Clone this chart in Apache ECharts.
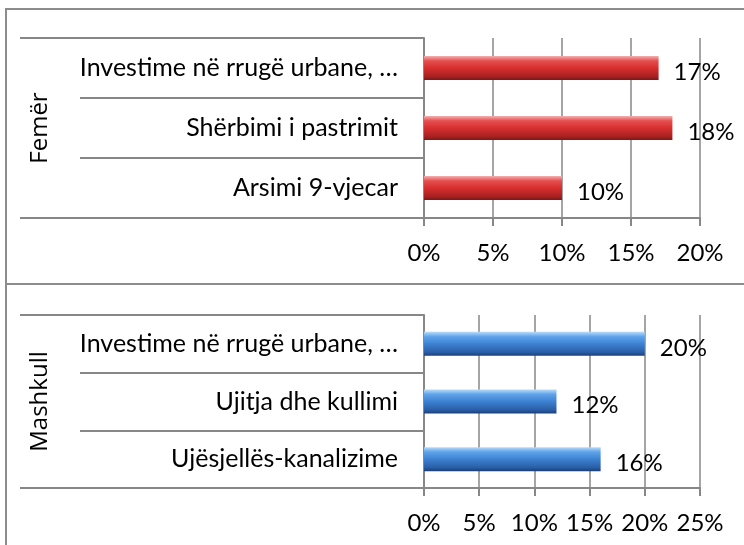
<!DOCTYPE html>
<html>
<head>
<meta charset="utf-8">
<script src="https://cdn.jsdelivr.net/npm/echarts@6/dist/echarts.min.js"></script>
<style>
  html, body { margin: 0; padding: 0; background: #fff; }
  #chart { width: 744px; height: 545px; }
</style>
</head>
<body>
<div id="chart"></div>
<script>
// data (top to bottom as in the picture)
var femerCats = ['Investime në rrugë urbane, …', 'Shërbimi i pastrimit', 'Arsimi 9-vjecar'];
var femerVals = [17, 18, 10];
var mashkullCats = ['Investime në rrugë urbane, …', 'Ujitja dhe kullimi', 'Ujësjellës-kanalizime'];
var mashkullVals = [20, 12, 16];
var femerMax = 20;
var mashkullMax = 25;
var tickStep = 5;

var gray = '#878787';
var catFont = 'Lato, "Liberation Sans", sans-serif';

var chart = echarts.init(document.getElementById('chart'));

// 3d-ish bar fill
var redFill = new echarts.graphic.LinearGradient(0, 0, 0, 1, [
    { offset: 0, color: '#f4b0b0' },
    { offset: 0.2, color: '#e65050' },
    { offset: 0.5, color: '#d82e2e' },
    { offset: 0.85, color: '#a82222' },
    { offset: 1, color: '#7c1818' }
]);
var blueFill = new echarts.graphic.LinearGradient(0, 0, 0, 1, [
    { offset: 0, color: '#b8dcfa' },
    { offset: 0.2, color: '#5fa3ea' },
    { offset: 0.5, color: '#3d82d2' },
    { offset: 0.85, color: '#2a5ea6' },
    { offset: 1, color: '#1c3f78' }
]);

function valueAxis(idx, max) {
    return {
        type: 'value',
        gridIndex: idx,
        min: 0,
        max: max,
        interval: tickStep,
        axisLine: { show: true, lineStyle: { color: gray, width: 2 } },
        axisTick: { show: true, length: 8, lineStyle: { color: gray, width: 2 } },
        splitLine: { show: true, lineStyle: { color: gray, width: 1.5 } },
        axisLabel: {
            margin: 23,
            color: '#000',
            fontSize: 24,
            fontFamily: catFont,
            formatter: '{value}%'
        }
    };
}

// inner axis: category labels, short separators
function catAxis(idx, cats, name) {
    return {
        type: 'category',
        gridIndex: idx,
        position: 'left',
        data: cats,
        inverse: true,
        name: name,
        nameLocation: 'middle',
        nameRotate: 90,
        nameGap: 372,
        nameTextStyle: { color: '#000', fontSize: 24, fontFamily: '"Open Sans", sans-serif' },
        axisLine: { show: true, lineStyle: { color: gray, width: 2 } },
        axisTick: { show: true, length: 344, lineStyle: { color: gray, width: 2 } },
        splitLine: { show: false },
        axisLabel: {
            margin: 26,
            color: '#000',
            fontSize: 25,
            fontFamily: catFont
        }
    };
}

// outer axis: one group, long lines at top and bottom
function groupAxis(idx, name) {
    return {
        type: 'category',
        gridIndex: idx,
        position: 'left',
        offset: 0,
        data: [name],
        axisLine: { show: false },
        axisTick: { show: true, length: 404, lineStyle: { color: gray, width: 2 } },
        axisLabel: { show: false },
        splitLine: { show: false }
    };
}

function barSeries(idx, vals, fill) {
    return {
        type: 'bar',
        xAxisIndex: idx,
        yAxisIndex: idx,
        data: vals,
        barWidth: 24,
        itemStyle: { color: fill },
        label: {
            show: true,
            position: 'right',
            distance: 15,
            offset: [0, 4],
            color: '#000',
            fontSize: 24,
            fontFamily: catFont,
            formatter: '{c}%'
        }
    };
}

var option = {
    animation: false,
    backgroundColor: '#fff',
    graphic: [
        { type: 'rect', shape: { x: 6, y: 9, width: 760, height: 275 }, style: { fill: 'none', stroke: '#8c8c8c', lineWidth: 2 }, silent: true },
        { type: 'rect', shape: { x: 6, y: 284, width: 760, height: 280 }, style: { fill: 'none', stroke: '#8c8c8c', lineWidth: 2 }, silent: true }
    ],
    grid: [
        { left: 424, right: 44, top: 38, height: 180 },
        { left: 424, right: 44, top: 315, height: 173 }
    ],
    xAxis: [valueAxis(0, femerMax), valueAxis(1, mashkullMax)],
    yAxis: [
        catAxis(0, femerCats, 'Femër'),
        catAxis(1, mashkullCats, 'Mashkull'),
        groupAxis(0, 'Femër'),
        groupAxis(1, 'Mashkull')
    ],
    series: [barSeries(0, femerVals, redFill), barSeries(1, mashkullVals, blueFill)]
};

chart.setOption(option, true);
window.onresize = chart.resize;
</script>
</body>
</html>
